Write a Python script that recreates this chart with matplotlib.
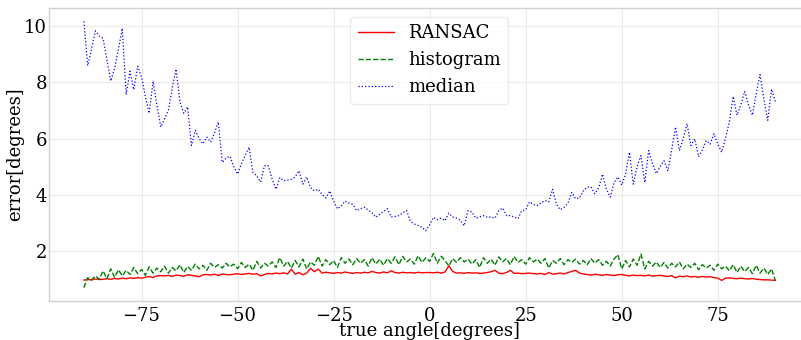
import numpy as np
import matplotlib
matplotlib.use("Agg")
import matplotlib.pyplot as plt

angles = list(range(-90, 91))

ransac = [
    0.95, 0.97, 0.96, 0.99, 0.97, 0.98, 1.00, 0.98, 1.01, 0.99,
    1.02, 1.00, 1.03, 1.01, 1.04, 1.02, 1.05, 1.08, 1.04, 1.10,
    1.11, 1.10, 1.12, 1.08, 1.13, 1.11, 1.09, 1.14, 1.12, 1.10,
    1.07, 1.14, 1.15, 1.13, 1.16, 1.12, 1.17, 1.15, 1.14, 1.16,
    1.18, 1.15, 1.17, 1.19, 1.16, 1.18, 1.10, 1.15, 1.19, 1.17,
    1.20, 1.18, 1.21, 1.17, 1.34, 1.16, 1.22, 1.14, 1.20, 1.37,
    1.25, 1.34, 1.20, 1.23, 1.21, 1.19, 1.22, 1.20, 1.24, 1.21,
    1.19, 1.22, 1.20, 1.23, 1.21, 1.26, 1.22, 1.20, 1.24, 1.21,
    1.28, 1.22, 1.20, 1.23, 1.21, 1.22, 1.20, 1.23, 1.21, 1.22,
    1.22, 1.21, 1.23, 1.20, 1.24, 1.46, 1.26, 1.20, 1.21, 1.19,
    1.22, 1.20, 1.21, 1.19, 1.20, 1.22, 1.25, 1.30, 1.20, 1.18,
    1.22, 1.30, 1.19, 1.20, 1.18, 1.19, 1.20, 1.18, 1.17, 1.19,
    1.15, 1.22, 1.16, 1.18, 1.20, 1.17, 1.22, 1.26, 1.30, 1.20,
    1.17, 1.15, 1.13, 1.16, 1.14, 1.12, 1.15, 1.13, 1.11, 1.14,
    1.15, 1.12, 1.10, 1.13, 1.11, 1.12, 1.10, 1.13, 1.09, 1.11,
    1.12, 1.10, 1.08, 1.11, 1.03, 1.09, 1.07, 1.10, 1.06, 1.08,
    1.05, 1.08, 1.06, 1.07, 1.04, 1.02, 0.94, 1.02, 1.03, 1.01,
    1.00, 1.02, 1.00, 0.99, 1.01, 0.98, 0.97, 0.96, 0.96, 0.95,
    0.94,
]

histogram = [
    0.68, 1.04, 0.95, 1.10, 0.98, 1.28, 1.00, 1.35, 1.05, 1.32,
    1.10, 1.30, 1.15, 1.40, 1.18, 1.33, 1.12, 1.42, 1.20, 1.38,
    1.25, 1.45, 1.20, 1.40, 1.28, 1.50, 1.22, 1.44, 1.30, 1.52,
    1.35, 1.48, 1.30, 1.55, 1.40, 1.50, 1.38, 1.55, 1.42, 1.52,
    1.36, 1.58, 1.40, 1.52, 1.30, 1.62, 1.38, 1.55, 1.45, 1.60,
    1.40, 1.75, 1.45, 1.62, 1.38, 1.65, 1.42, 1.70, 1.35, 1.60,
    1.48, 1.80, 1.45, 1.68, 1.50, 1.65, 1.40, 1.75, 1.55, 1.70,
    1.50, 1.72, 1.55, 1.68, 1.45, 1.75, 1.52, 1.70, 1.48, 1.72,
    1.55, 1.78, 1.50, 1.80, 1.60, 1.70, 1.52, 1.82, 1.58, 1.75,
    1.62, 1.90, 1.55, 1.80, 1.65, 1.45, 1.72, 1.58, 1.75, 1.60,
    1.70, 1.52, 1.68, 1.40, 1.75, 1.55, 1.70, 1.48, 1.78, 1.60,
    1.72, 1.50, 1.80, 1.58, 1.68, 1.52, 1.75, 1.60, 1.70, 1.55,
    1.72, 1.38, 1.65, 1.55, 1.72, 1.50, 1.68, 1.58, 1.70, 1.52,
    1.65, 1.50, 1.72, 1.55, 1.68, 1.48, 1.62, 1.45, 1.70, 1.86,
    1.35, 1.65, 1.42, 1.70, 1.48, 1.88, 1.35, 1.62, 1.45, 1.60,
    1.40, 1.58, 1.38, 1.55, 1.42, 1.60, 1.35, 1.52, 1.40, 1.55,
    1.32, 1.50, 1.38, 1.48, 1.30, 1.52, 1.35, 1.45, 1.28, 1.50,
    1.22, 1.45, 1.25, 1.40, 1.18, 1.48, 1.20, 1.38, 1.15, 1.35,
    0.92,
]

median = [
    10.18, 8.60, 9.20, 9.84, 9.66, 9.57, 8.80, 8.05, 8.50, 9.20,
    9.93, 7.56, 8.40, 7.74, 8.58, 8.20, 7.50, 6.90, 8.04, 7.20,
    6.41, 6.70, 7.01, 7.80, 8.48, 7.30, 6.90, 7.13, 5.75, 6.29,
    6.00, 5.81, 6.05, 5.87, 6.20, 6.59, 5.15, 5.30, 5.37, 5.00,
    4.73, 5.09, 5.40, 5.69, 4.79, 4.67, 4.45, 5.03, 5.03, 4.55,
    4.19, 4.61, 4.50, 4.51, 4.55, 4.63, 4.85, 4.37, 4.63, 4.25,
    4.13, 4.19, 4.00, 3.88, 4.13, 3.77, 3.49, 3.60, 3.77, 3.70,
    3.65, 3.43, 3.50, 3.55, 3.45, 3.35, 3.19, 3.30, 3.40, 3.50,
    3.20, 3.22, 3.25, 3.35, 3.43, 3.04, 2.95, 2.90, 2.83, 2.71,
    2.92, 3.19, 3.10, 3.16, 3.07, 3.34, 3.20, 3.16, 3.08, 2.89,
    3.43, 3.38, 3.16, 3.20, 3.25, 3.19, 3.20, 3.16, 3.43, 3.52,
    3.25, 3.25, 3.20, 3.14, 3.43, 3.46, 3.74, 3.65, 3.61, 3.70,
    3.79, 3.74, 4.19, 3.65, 3.46, 3.55, 3.70, 4.08, 3.85, 3.88,
    4.13, 4.27, 4.27, 4.03, 4.25, 4.73, 4.19, 3.91, 4.43, 4.63,
    4.34, 4.73, 5.51, 4.37, 5.00, 5.39, 4.43, 5.57, 5.10, 4.75,
    5.00, 5.21, 4.85, 5.60, 6.41, 5.57, 6.00, 6.53, 5.75, 5.99,
    5.35, 5.60, 5.93, 5.80, 6.17, 5.80, 5.51, 6.00, 6.59, 7.50,
    6.83, 7.20, 7.68, 7.20, 6.83, 7.60, 8.28, 7.40, 6.65, 7.76,
    7.31,
]

plt.rcParams['font.family'] = ['DejaVu Serif']
plt.rcParams['font.size'] = 13

fig = plt.figure(figsize=(8.01, 3.40), dpi=100)
W, H = 801.0, 340.0
left, right, top, bottom = 49.3, 810.0, 8.0, 301.0
ax = fig.add_axes([left / W, (H - bottom) / H, (right - left) / W, (bottom - top) / H])

ax.plot(angles, ransac, color='red', lw=1.0, label='RANSAC')
ax.plot(angles, histogram, color='green', lw=1.0, ls='--', label='histogram')
ax.plot(angles, median, color='blue', lw=0.9, ls=':', label='median')

ax.set_xticks([-75, -50, -25, 0, 25, 50, 75])
ax.set_yticks([2, 4, 6, 8, 10])
ax.grid(True, color='#ebebeb', lw=0.8)
ax.set_axisbelow(True)
ax.tick_params(axis='x', length=0, pad=4.5)
ax.tick_params(axis='y', length=0, pad=1.5)
for s in ax.spines.values():
    s.set_color('#d0d0d0')
    s.set_linewidth(1.0)

ax.set_xlabel('true angle[degrees]', labelpad=-2.2)
ax.set_ylabel('error[degrees]', labelpad=0)
leg = ax.legend(loc='upper center', bbox_to_anchor=((429.3 - left) / (right - left), 1.0), frameon=True)
leg.get_frame().set_edgecolor('#e6e6e6')

fig.savefig('out.png', dpi=100)
